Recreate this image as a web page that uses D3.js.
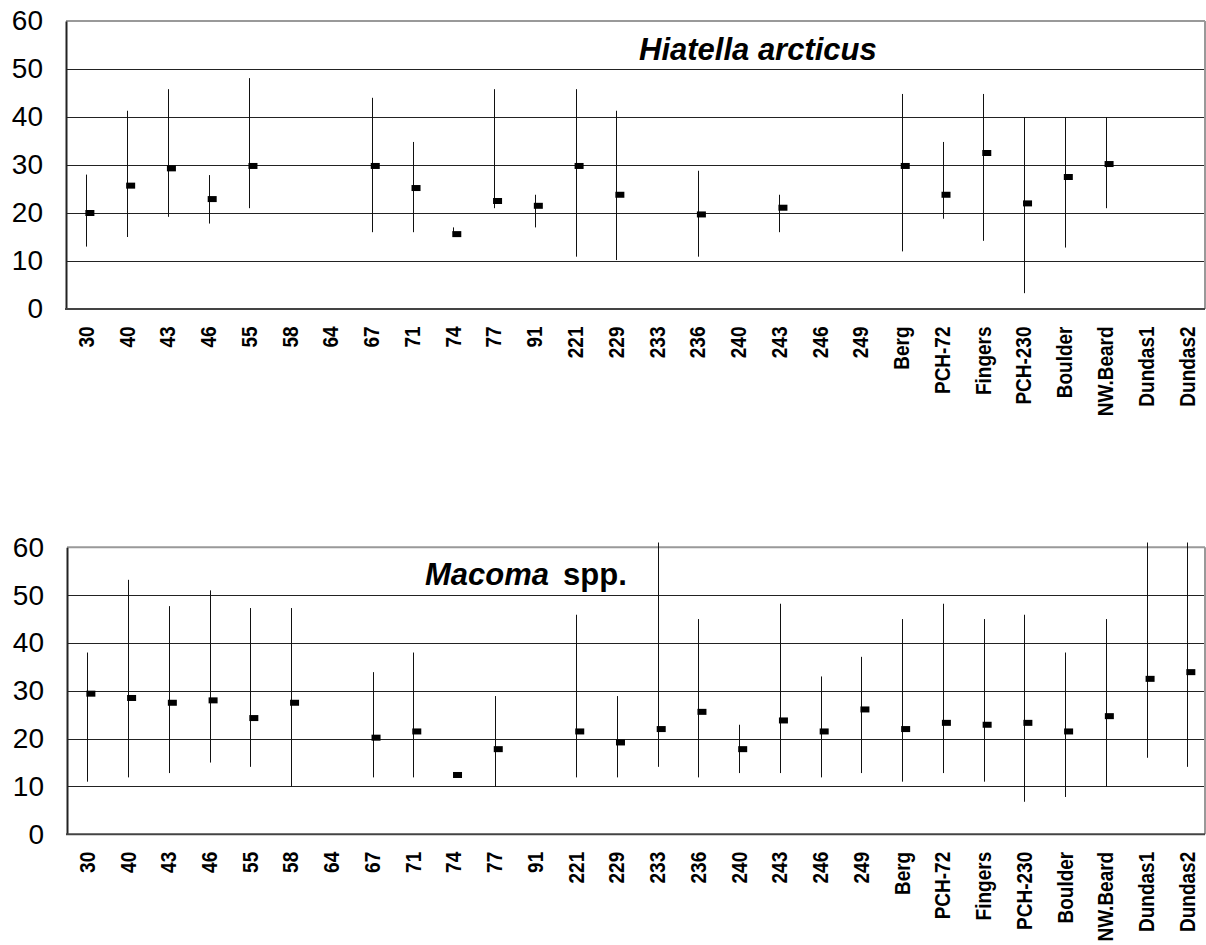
<!DOCTYPE html>
<html>
<head>
<meta charset="utf-8">
<script src="https://cdn.jsdelivr.net/npm/d3@7"></script>
<style>
  html, body { margin: 0; padding: 0; background: #fff; }
  svg { display: block; }
  text { font-family: "Liberation Sans", Arial, sans-serif; }
</style>
</head>
<body>
<svg id="chart" width="1206" height="945"></svg>
<script>
// Sampling stations, shared by both panels
const stations = ["30","40","43","46","55","58","64","67","71","74","77","91",
  "221","229","233","236","240","243","246","249",
  "Berg","PCH-72","Fingers","PCH-230","Boulder","NW.Beard","Dundas1","Dundas2"];

const yTicks = [0, 10, 20, 30, 40, 50, 60];

// Hiatella arcticus: mean with min / max range (null = no specimens)
const hiatellaMean = [20, 25.7, 29.3, 22.9, 29.8, null, null, 29.8, 25.2, 15.6, 22.5, 21.5,
  29.8, 23.8, null, 19.7, null, 21.1, null, null,
  29.8, 23.8, 32.5, 22, 27.5, 30.2, null, null];
const hiatellaMin = [13, 15, 19.2, 17.8, 21, null, null, 16, 16, 15, 21, 17,
  10.9, 10.2, null, 10.9, null, 16, null, null,
  12, 18.8, 14.2, 3.3, 12.8, 21, null, null];
const hiatellaMax = [28, 41.3, 45.8, 27.9, 48.1, null, null, 44, 34.8, 17, 45.8, 23.8,
  45.8, 41.3, null, 28.8, null, 23.8, null, null,
  44.8, 34.8, 44.8, 40, 40, 40, null, null];

// Macoma spp.: mean with min / max range
const macomaMean = [29.4, 28.5, 27.5, 28, 24.3, 27.5, null, 20.2, 21.5, 12.4, 17.8, null,
  21.5, 19.2, 22, 25.6, 17.8, 23.8, 21.5, 26.1,
  22, 23.3, 22.9, 23.3, 21.5, 24.7, 32.5, 33.9];
const macomaMin = [11, 11.9, 12.8, 15, 14.1, 10, null, 11.9, 11.9, 12.4, 10, null,
  11.9, 11.9, 14.1, 11.9, 12.8, 12.8, 11.9, 12.8,
  11, 12.8, 11, 6.8, 7.8, 10, 16, 14.1];
const macomaMax = [38, 53.2, 47.7, 51, 47.3, 47.3, null, 33.9, 38, 12.4, 28.9, null,
  45.9, 28.9, 61, 45, 22.9, 48.2, 33, 37.1,
  45, 48.2, 45, 45.9, 38, 45, 61, 61];

const svg = d3.select("#chart");

function drawPanel(cfg) {
  const { left, plotTop, plotBottom, right, bandEnd, mean, lo, hi } = cfg;
  const g = svg.append("g");

  const x = d3.scaleBand().domain(stations).range([left, bandEnd]);
  const y = d3.scaleLinear().domain([0, 60]).range([plotBottom, plotTop]);

  // horizontal gridlines
  g.append("g").selectAll("line")
    .data(yTicks.filter(t => t > 0 && t < 60))
    .join("line")
    .attr("x1", left).attr("x2", right)
    .attr("y1", d => Math.round(y(d)) + 0.5).attr("y2", d => Math.round(y(d)) + 0.5)
    .attr("stroke", "#222").attr("stroke-width", 1);

  // plot frame: top and right edges in grey
  g.append("line").attr("x1", left).attr("x2", right)
    .attr("y1", y(60)).attr("y2", y(60))
    .attr("stroke", "#999").attr("stroke-width", 2);
  g.append("line").attr("x1", right).attr("x2", right)
    .attr("y1", y(60)).attr("y2", y(0))
    .attr("stroke", "#999").attr("stroke-width", 2);

  // y axis with tick labels
  const yAxis = d3.axisLeft(y).tickValues(yTicks).tickSize(0).tickPadding(23);
  const ya = g.append("g").attr("transform", `translate(${left},0)`).call(yAxis);
  ya.select(".domain").attr("stroke", "#222").attr("stroke-width", 2);
  ya.selectAll("text")
    .attr("font-size", 28).attr("fill", "#000")
    .style("font-family", '"Liberation Sans", Arial, sans-serif');

  // x axis line
  g.append("line").attr("x1", left - 1).attr("x2", right)
    .attr("y1", y(0)).attr("y2", y(0))
    .attr("stroke", "#444").attr("stroke-width", 2);

  // rotated station labels
  const cx = d => x(d) + x.bandwidth() / 2 - 0.6;
  g.append("g").selectAll("text")
    .data(stations)
    .join("text")
    .attr("transform", d => `translate(${cx(d)},${y(0) + 17.5}) scale(1.2,1) rotate(-90)`)
    .attr("dy", "0.35em")
    .attr("text-anchor", "end")
    .attr("font-size", 19)
    .attr("font-weight", "bold")
    .attr("fill", "#000")
    .text(d => d);

  const rows = stations.map((s, i) => ({ s, m: mean[i], lo: lo[i], hi: hi[i] }))
    .filter(r => r.m !== null);

  // min-max range bars
  g.append("g").selectAll("line")
    .data(rows)
    .join("line")
    .attr("x1", d => Math.round(x(d.s) + x.bandwidth() / 2) + 0.5)
    .attr("x2", d => Math.round(x(d.s) + x.bandwidth() / 2) + 0.5)
    .attr("y1", d => y(d.hi)).attr("y2", d => y(d.lo))
    .attr("stroke", "#111").attr("stroke-width", 1);

  // mean markers
  g.append("g").selectAll("rect")
    .data(rows)
    .join("rect")
    .attr("x", d => x(d.s) + x.bandwidth() / 2 - 1)
    .attr("y", d => y(d.m) - 3)
    .attr("width", 9).attr("height", 6)
    .attr("fill", "#000");

  return g;
}

const hiatellaPanel = drawPanel({
  left: 66, plotTop: 21, plotBottom: 309, right: 1205, bandEnd: 1207.5,
  mean: hiatellaMean, lo: hiatellaMin, hi: hiatellaMax
});
hiatellaPanel.append("text")
  .attr("x", 639).attr("y", 60)
  .attr("font-size", 31).attr("font-weight", "bold").attr("font-style", "italic")
  .attr("fill", "#000")
  .text("Hiatella arcticus");

const macomaPanel = drawPanel({
  left: 67, plotTop: 547.3, plotBottom: 834.3, right: 1205, bandEnd: 1207.7,
  mean: macomaMean, lo: macomaMin, hi: macomaMax
});
const macomaTitle = macomaPanel.append("text")
  .attr("x", 425).attr("y", 585)
  .attr("font-size", 31).attr("font-weight", "bold").attr("fill", "#000");
macomaTitle.append("tspan").attr("font-style", "italic").text("Macoma");
macomaTitle.append("tspan").attr("dx", 14).text("spp.");
</script>
</body>
</html>
